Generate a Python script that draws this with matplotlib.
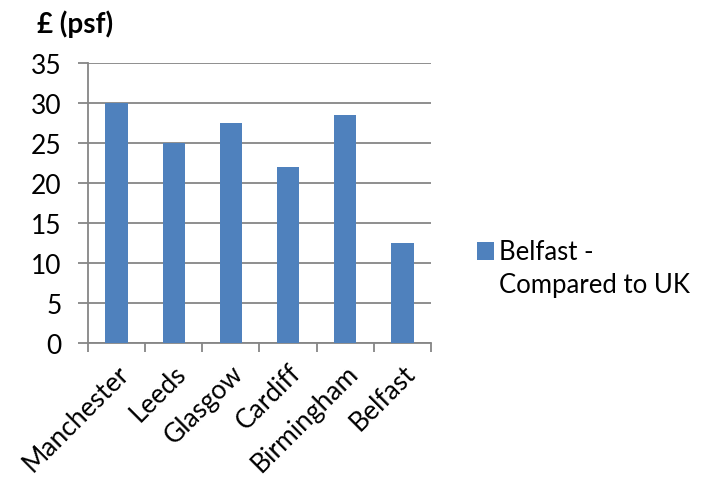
import numpy as np
import matplotlib.pyplot as plt
from matplotlib.patches import Rectangle

# Datos
cities = ['Manchester', 'Leeds', 'Glasgow', 'Cardiff', 'Birmingham', 'Belfast']
rents = [30, 25, 27.5, 22, 28.5, 12.5]
yticks = [0, 5, 10, 15, 20, 25, 30, 35]
series_name = 'Belfast -\nCompared to UK'

plt.rcParams['font.family'] = ['Lato', 'DejaVu Sans']
grey = '#868686'
blue = '#4F81BD'

fig = plt.figure(figsize=(7.05, 4.81), dpi=100)
ax = fig.add_axes([0.1248, 0.2848, 0.4865, 0.5821])

x = np.arange(len(cities))
ax.bar(x, rents, width=0.39, color=blue, zorder=3)

ax.set_xlim(-0.5, len(cities) - 0.5)
ax.set_ylim(0, 35)
ax.set_yticks(yticks)
ax.yaxis.grid(True, color=grey, linewidth=1.3, zorder=0)
ax.tick_params(axis='y', length=7.2, width=1.3, color=grey, labelsize=19, pad=12)

# ticks between categories, labels at centres
ax.set_xticks(np.arange(len(cities) + 1) - 0.5)
ax.set_xticklabels([])
ax.set_xticks(x, minor=True)
ax.set_xticklabels(cities, minor=True, rotation=45, ha='right',
                   rotation_mode='anchor', fontsize=19)
ax.tick_params(axis='x', which='major', length=6.5, width=1.3, color=grey)
ax.tick_params(axis='x', which='minor', length=0, pad=12)

for side in ['top', 'right']:
    ax.spines[side].set_visible(False)
for side in ['left', 'bottom']:
    ax.spines[side].set_color(grey)
    ax.spines[side].set_linewidth(1.3)

fig.text(0.052, 0.95, '£ (psf)', fontsize=20, fontweight='bold', va='center')

# legend: swatch next to the first line of the series name
fig.add_artist(Rectangle((477 / 705, 1 - 261 / 481), 17 / 705, 18 / 481,
                         transform=fig.transFigure, facecolor=blue,
                         edgecolor='none'))
fig.text(499 / 705, 1 - 240 / 481, series_name, fontsize=18.5, va='top',
         linespacing=1.4)

plt.savefig('out.png', dpi=100)
